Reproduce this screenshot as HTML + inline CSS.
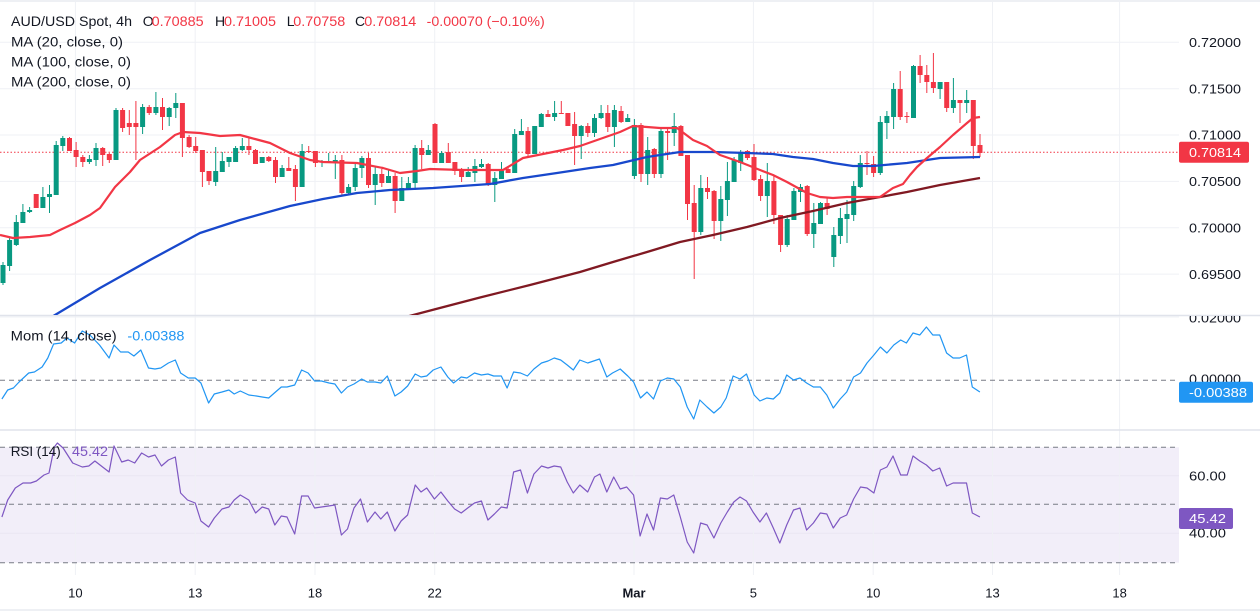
<!DOCTYPE html>
<html><head><meta charset="utf-8"><style>
html,body{margin:0;padding:0;background:#fff;}
svg{display:block;font-family:"Liberation Sans",Arial,sans-serif;}
</style></head><body>
<svg width="1260" height="611" viewBox="0 0 1260 611" xmlns="http://www.w3.org/2000/svg">
<defs>
<clipPath id="mainc"><rect x="0" y="2" width="1179" height="313"/></clipPath>
<clipPath id="momc"><rect x="0" y="316" width="1260" height="113"/></clipPath>
</defs>
<rect x="0" y="0" width="1260" height="611" fill="#fff"/>
<rect x="0" y="0" width="1260" height="2" fill="#eef0f4"/>
<rect x="0" y="609" width="1260" height="2" fill="#eef0f4"/>
<!-- RSI band -->
<rect x="0" y="447.3" width="1179" height="115.4" fill="#f2eef9"/>
<!-- grid -->
<g stroke="#eff1f5" stroke-width="1">
<path d="M0 42.3H1179M0 88.7H1179M0 135H1179M0 181.4H1179M0 227.7H1179M0 274.1H1179"/>
<path d="M0 317H1179"/>
<path d="M0 475.7H1179M0 533.3H1179" stroke="#e9e5f3"/>
<path d="M75.4 2V575M195.2 2V575M315 2V575M434.7 2V575M634 2V575M753.4 2V575M873.2 2V575M992.5 2V575M1119.6 2V575"/>
</g>
<!-- separators -->
<path d="M0 315.5H1260M0 430H1260" stroke="#e0e3eb" stroke-width="1.5"/>
<!-- dashed levels -->
<g stroke="#787b86" stroke-width="1" stroke-dasharray="5 4" fill="none">
<path d="M0 380.3H1179"/>
<path d="M0 447.3H1179M0 504.3H1179M0 562.7H1179"/>
</g>
<!-- main pane -->
<g clip-path="url(#mainc)">
<path d="M0 152.2H1179" stroke="#f23645" stroke-width="1" stroke-dasharray="1.5 2"/>
<path stroke="#089981" stroke-width="1" fill="none" d="M3 262V285M9.6 238V271M16.3 215V246M22.9 204V223M29.6 207V213M42.9 187V208M49.5 185V213M56.2 141V195M62.8 136V151M89.4 155V164M96 143V166M116 108V160M142.6 104V134M155.9 92V115M169.2 107V126M175.8 93V118M215.7 147V186M222.3 152V172M229 157V167M235.6 146V162M242.3 138V151M262.2 157V163M282.1 165V177M302.1 144V187M322 160V167M328.7 153V163M335.3 155V179M348.6 184V194M355.2 163V191M361.9 156V178M375.2 166V205M388.5 169V183M401.8 177V201M408.4 177V190M415.1 145V190M428.3 145V155M441.6 151V163M468.2 167V177M474.9 159V182M481.5 159V168M494.8 172V202M501.5 162V179M514.7 129V173M521.4 119V135M534.7 126V154M541.3 113V127M554.6 101V121M581.2 125V159M594.5 114V137M601.1 105V119M614.4 105V147M627.7 114V122M634.4 119V179M647.7 137V185M661 129V178M674.2 113V146M700.8 175V235M720.8 186V241M727.4 162V216M734.1 157V182M740.7 150V171M767.3 163V217M787.2 215V247M793.9 188V220M800.5 184V202M813.8 203V248M820.5 202V224M833.8 227V267M840.4 208V244M847 200V243M853.7 181V221M860.3 155V188M880.3 116V175M886.9 111V139M893.6 83V129M913.5 65V118M940.1 82V99M953.4 78V113M966.7 90V113"/>
<path stroke="#089981" stroke-width="5" fill="none" d="M3 265V283M9.6 240V266M16.3 222V245M22.9 212V223M29.6 210V212M42.9 197V208M49.5 194V197M56.2 145V195M62.8 138V146M89.4 159V162M96 148V160M116 110V160M142.6 107V127M155.9 107V113M169.2 108V117M175.8 103V108M215.7 171V182M222.3 161V172M229 157V162M235.6 148V162M242.3 146V150M262.2 157V163M282.1 168V177M302.1 151V187M322 161V162M328.7 161V162M335.3 160V162M348.6 187V193M355.2 168V187M361.9 158V168M375.2 174V185M388.5 176V183M401.8 188V201M408.4 183V189M415.1 148V183M428.3 150V155M441.6 153V163M468.2 172V177M474.9 166V173M481.5 164V167M494.8 178V185M501.5 171V179M514.7 134V173M521.4 131V135M534.7 126V154M541.3 114V127M554.6 113V117M581.2 126V136M594.5 118V133M601.1 113V118M614.4 110V127M627.7 118V122M634.4 125V176M647.7 150V174M661 131V174M674.2 126V133M700.8 188V232M720.8 199V221M727.4 181V200M734.1 160V182M740.7 152V163M767.3 181V196M787.2 219V245M793.9 191V220M800.5 187V192M813.8 223V234M820.5 203V224M833.8 235V257M840.4 218V236M847 214V219M853.7 186V215M860.3 163V187M880.3 122V173M886.9 116V123M893.6 89V117M913.5 66V118M940.1 82V89M953.4 100V108M966.7 100V103"/>
<path stroke="#f23645" stroke-width="1" fill="none" d="M36.2 194V208M69.5 137V151M76.1 142V167M82.8 155V167M102.7 147V166M109.3 153V163M122.6 108V132M129.3 110V135M135.9 101V160M149.2 105V115M162.5 98V130M182.4 103V157M189.1 135V148M195.7 137V153M202.4 150V187M209 171V185M248.9 137V155M255.5 149V164M268.8 156V162M275.5 157V183M288.8 157V171M295.4 165V201M308.7 146V153M315.4 151V167M341.9 155V195M368.5 153V188M381.8 169V187M395.1 173V213M421.7 140V169M435 123V163M448.3 143V163M454.9 162V175M461.6 168V182M488.2 163V186M508.1 167V173M528 127V158M548 110V117M561.3 101V114M567.9 113V126M574.6 112V165M587.8 123V137M607.8 105V132M621.1 106V123M641 123V182M654.3 148V178M667.6 128V160M680.9 125V156M687.5 155V220M694.2 185V279M707.5 177V199M714.1 190V239M747.4 150V160M754 144V181M760.6 175V201M773.9 175V224M780.6 215V252M807.2 185V236M827.1 198V215M867 151V175M873.6 156V177M900.2 71V120M906.9 112V123M920.1 55V83M926.8 65V93M933.4 53V93M946.7 82V112M960 100V123M973.3 100V159M980 134V157"/>
<path stroke="#f23645" stroke-width="5" fill="none" d="M36.2 194V208M69.5 138V151M76.1 150V157M82.8 157V162M102.7 148V155M109.3 154V160M122.6 110V128M129.3 123V127M135.9 123V127M149.2 107V113M162.5 107V117M182.4 103V138M189.1 137V147M195.7 146V151M202.4 150V172M209 171V181M248.9 146V150M255.5 150V164M268.8 157V161M275.5 160V177M288.8 168V171M295.4 169V187M308.7 151V152M315.4 151V163M341.9 160V193M368.5 158V185M381.8 174V183M395.1 176V201M421.7 148V155M435 124V163M448.3 152V163M454.9 162V171M461.6 171V177M488.2 164V185M508.1 169V173M528 131V154M548 114V117M561.3 113V114M567.9 113V126M574.6 124V136M587.8 126V133M607.8 113V127M621.1 111V122M641 125V174M654.3 149V174M667.6 131V133M680.9 126V156M687.5 155V204M694.2 203V232M707.5 188V192M714.1 191V221M747.4 151V158M754 157V180M760.6 179V196M773.9 181V215M780.6 215V245M807.2 186V234M827.1 203V209M867 163V164M873.6 164V173M900.2 89V117M906.9 116V117M920.1 66V75M926.8 75V82M933.4 82V88M946.7 82V108M960 100V103M973.3 100V146M980 145V153"/>
<!-- MA200 -->
<polyline fill="none" stroke="#801922" stroke-width="2.3" stroke-linejoin="round" points="398,319 436,309 480,297.5 530,285 580,272 613,262 647,252 680,242 713,235 747,227 780,218 813,211 847,203 880,197 907,192 940,185 980,178"/>
<!-- MA100 -->
<polyline fill="none" stroke="#1848cc" stroke-width="2.3" stroke-linejoin="round" points="45,321 55,315 80,300 100,288 150,260 200,233 240,220 290,206 323,199 357,193 390,190 433,188 490,184 523,178 557,173 590,168 613,165 647,157 680,152 713,152 747,153 773,154 793,157 813,159 833,163 853,166 873,166 907,163 940,158 980,157"/>
<!-- MA20 -->
<polyline fill="none" stroke="#f23645" stroke-width="2.2" stroke-linejoin="round" points="0,235 13,238 30,237 50,235 60,230 75,223 90,215 100,208 115,187 130,172 140,160 160,147 175,135 183,132 200,133 220,136 240,135 255,139 270,143 290,153 310,160 323,162 357,163 383,168 400,173 417,171 430,169 463,170 503,170 523,158 543,154 563,150 580,146 600,139 620,132 633,126 647,127 660,128 677,128 693,140 707,146 720,155 740,162 760,170 773,175 787,182 807,193 820,197 833,198 847,197 867,197 880,197 893,188 903,184 910,175 917,167 927,158 940,147 953,135 967,123 973,118 980,117"/>
</g>
<!-- Momentum -->
<g clip-path="url(#momc)">
<polyline fill="none" stroke="#2196f3" stroke-width="1.2" stroke-linejoin="round" points="1.9,399 7.7,390 13.4,388 19.1,382 28.7,373 34.4,372 42.1,367 47.8,358 53.6,344 61.2,343 67,338 74.6,343 82.3,331 89.9,335 99.5,345 109.1,358 114,345 120.6,352 128.2,352 133.9,356 140.8,350 148.5,368 155,369 160.7,368 168.4,363 175.3,360 180.6,373 188.3,378 195.2,378 200.9,383 208.6,403 214.3,394 222,392 228.9,390 234.2,394 240.3,391 248.8,395 256.4,396 262.2,397 268.7,398 275.5,392 281.3,387 287,387 294.7,385 301.6,370 308.1,373 314.6,381 321.5,381 329.1,383 334.9,384 341.4,393 347.5,387 354,384 361.7,379 367.4,382 375,382 380.8,383 387.3,376 394.9,396 401.1,392 407.6,386 415.2,374 421,377 426.7,376 433.2,370 440.9,367 447.8,377 453.5,383 461.2,377 466.9,378 474.5,373 481.4,375 487.9,374 493.7,376 501.3,376 507.1,388 513.6,372 520.5,373 527.4,376 533.9,369 541.5,363 548,361 554.2,358 560.7,360 567.2,365 573.3,370 579.8,360 587.7,363 599.5,359 606.8,377 612.5,373 620.2,369 627.8,376 633.6,382 640.5,398 647,392 653.5,399 660.4,381 667.3,378 673.8,379 680.3,387 687.2,407 693.7,419 699.8,400 707.1,407 713.9,413 720.8,407 726.2,398 733.1,376 740,379 746.5,374 754.1,395 759.9,401 766.8,398 773.3,399 779.8,393 786.7,375 793.5,380 800,378 806.6,383 813.4,387 820.3,387 826.8,395 833.3,408 840.2,399 846.7,392 853.6,377 860.5,373 867,363 873.9,355 880.4,347 886.9,353 893.8,345 900.7,340 906.4,343 913,333 919.8,335 926.4,327 932.8,335 939.7,335 946.6,353 953.1,358 959.6,358 966.5,355 972.3,387 979.9,392"/>
<text x="1189" y="322.5" font-size="13" fill="#131722" textLength="52" lengthAdjust="spacingAndGlyphs">0.02000</text>
</g>
<!-- RSI -->
<polyline fill="none" stroke="#7e57c2" stroke-width="1.2" stroke-linejoin="round" points="1.9,517 7.7,500 15.3,488 23,483 30.6,483 36.4,481 44,475 49,473 54.3,447 57.4,443 63.1,448 72.7,463 82.3,467 88.8,466 94.9,461 102.6,467 109.1,472 114,446 121.7,462 128.2,460 134.7,463 141.6,453 148.5,457 155,455 161.5,466 168.4,460 175.3,457 180.6,493 187.5,500 195.2,503 200.9,521 208.6,527 214.3,518 222,509 228.9,507 234.2,500 240.3,495 248.8,500 255.6,513 262.2,507 268.7,509 274.8,525 281.3,516 287,517 294.7,534 301.6,496 308.1,496 314.6,508 321.5,507 328.4,506 334.9,505 341.4,535 347.5,529 354,508 360.5,499 367.4,522 375,512 380.8,519 387.3,512 394.9,531 401.1,521 407.6,515 415.2,485 421,492 426.7,488 434.4,499 440.9,492 447.8,501 454.6,509 461.2,513 467.7,508 474.5,503 481.4,501 487.9,520 494.4,514 501.3,507 507.1,508 513.6,472 520.5,470 527.4,493 533.9,474 541.5,466 548,468 554.2,466 560.7,467 567.2,482 573.3,493 579.8,485 587.7,492 594.5,477 599.9,474 606.8,492 613.7,477 620.2,489 626.7,487 633.6,495 640.1,536 647,514 653.5,530 660.4,498 667.3,499 673.8,495 680.3,517 687.2,542 693.7,553 700.6,523 707.1,525 713.9,538 720.8,523 727.3,512 733.8,502 740,497 746.5,501 753,512 759.9,522 766.4,513 773.3,528 779.8,543 786.7,525 793.5,510 800,508 806.6,530 813.4,523 820.3,513 826.8,514 833.3,528 840.2,518 846.7,515 853.6,499 860.5,487 867,488 873.9,493 880.4,470 886.9,467 893,456 900.7,475 907.2,475 913,456 919.8,461 926.4,465 932.8,471 939.7,468 946.6,486 953.1,483 959.6,483 966.5,483 972.3,513 979.9,517"/>
<!-- legends -->
<g font-size="14" fill="#131722">
<text x="11" y="26" textLength="121" lengthAdjust="spacingAndGlyphs">AUD/USD Spot, 4h</text>
<text x="142.7" y="26">O</text>
<text x="151.7" y="26" fill="#f23645" textLength="52" lengthAdjust="spacingAndGlyphs">0.70885</text>
<text x="215" y="26">H</text>
<text x="224" y="26" fill="#f23645" textLength="52" lengthAdjust="spacingAndGlyphs">0.71005</text>
<text x="286.7" y="26">L</text>
<text x="293.3" y="26" fill="#f23645" textLength="52" lengthAdjust="spacingAndGlyphs">0.70758</text>
<text x="355" y="26">C</text>
<text x="364.3" y="26" fill="#f23645" textLength="52" lengthAdjust="spacingAndGlyphs">0.70814</text>
<text x="426.7" y="26" fill="#f23645" textLength="118" lengthAdjust="spacingAndGlyphs">-0.00070 (−0.10%)</text>
<text x="11" y="46.7" textLength="112" lengthAdjust="spacingAndGlyphs">MA (20, close, 0)</text>
<text x="11" y="66.7" textLength="120" lengthAdjust="spacingAndGlyphs">MA (100, close, 0)</text>
<text x="11" y="86.7" textLength="120" lengthAdjust="spacingAndGlyphs">MA (200, close, 0)</text>
<text x="10.7" y="340.5" textLength="106" lengthAdjust="spacingAndGlyphs">Mom (14, close)</text>
<text x="127.4" y="340.5" fill="#2196f3" textLength="57" lengthAdjust="spacingAndGlyphs">-0.00388</text>
<text x="10.7" y="456" textLength="50" lengthAdjust="spacingAndGlyphs">RSI (14)</text>
<text x="72" y="456" fill="#7e57c2" textLength="36" lengthAdjust="spacingAndGlyphs">45.42</text>
</g>
<!-- price axis -->
<g font-size="13" fill="#131722">
<text x="1189" y="47" textLength="52" lengthAdjust="spacingAndGlyphs">0.72000</text>
<text x="1189" y="93.4" textLength="52" lengthAdjust="spacingAndGlyphs">0.71500</text>
<text x="1189" y="139.7" textLength="52" lengthAdjust="spacingAndGlyphs">0.71000</text>
<text x="1189" y="186.1" textLength="52" lengthAdjust="spacingAndGlyphs">0.70500</text>
<text x="1189" y="232.4" textLength="52" lengthAdjust="spacingAndGlyphs">0.70000</text>
<text x="1189" y="278.8" textLength="52" lengthAdjust="spacingAndGlyphs">0.69500</text>
<text x="1189" y="383.7" textLength="52" lengthAdjust="spacingAndGlyphs">0.00000</text>
<text x="1189" y="480.4" textLength="37" lengthAdjust="spacingAndGlyphs">60.00</text>
<text x="1189" y="537.7" textLength="37" lengthAdjust="spacingAndGlyphs">40.00</text>
</g>
<rect x="1179" y="141.7" width="70" height="21" rx="2" fill="#f23645"/>
<text x="1189" y="156.8" font-size="13" fill="#fff" textLength="52" lengthAdjust="spacingAndGlyphs">0.70814</text>
<rect x="1179" y="381.7" width="74" height="21" rx="2" fill="#2196f3"/>
<text x="1189" y="396.8" font-size="13" fill="#fff" textLength="58" lengthAdjust="spacingAndGlyphs">-0.00388</text>
<rect x="1179" y="508" width="54" height="21" rx="2" fill="#7e57c2"/>
<text x="1189" y="523.1" font-size="13" fill="#fff" textLength="37" lengthAdjust="spacingAndGlyphs">45.42</text>
<!-- time axis -->
<g font-size="13" fill="#131722" text-anchor="middle">
<text x="75.4" y="597.5">10</text>
<text x="195.2" y="597.5">13</text>
<text x="315" y="597.5">18</text>
<text x="434.7" y="597.5">22</text>
<text x="634" y="597.5" font-weight="bold">Mar</text>
<text x="753.4" y="597.5">5</text>
<text x="873.2" y="597.5">10</text>
<text x="992.5" y="597.5">13</text>
<text x="1119.6" y="597.5">18</text>
</g>
</svg>
</body></html>
